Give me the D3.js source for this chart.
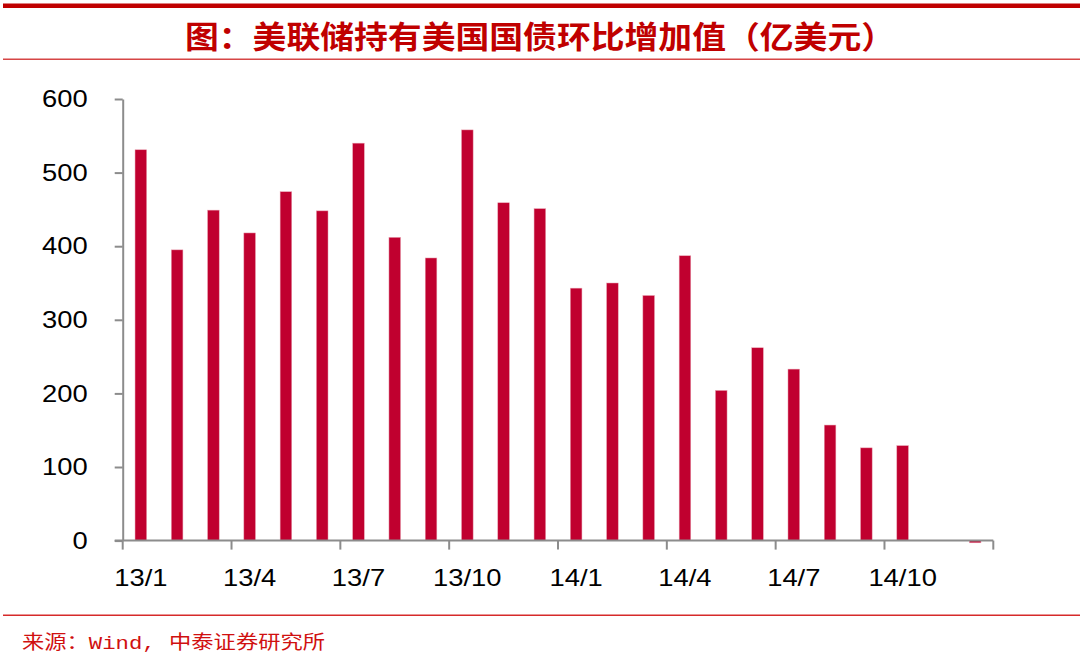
<!DOCTYPE html>
<html>
<head>
<meta charset="utf-8">
<script src="https://cdn.jsdelivr.net/npm/d3@7"></script>
<style>
  html, body { margin: 0; padding: 0; background: #fff; }
  svg { display: block; }
</style>
</head>
<body>
<svg id="chart" width="1080" height="671"></svg>
<script>
// ---- data ----
const titleText = "图：美联储持有美国国债环比增加值（亿美元）";
const sourceText = "来源：Wind, 中泰证券研究所";
const months = ["13/1","13/2","13/3","13/4","13/5","13/6","13/7","13/8","13/9","13/10","13/11","13/12",
                "14/1","14/2","14/3","14/4","14/5","14/6","14/7","14/8","14/9","14/10","14/11","14/12"];
const values = [531, 395, 449, 418, 474, 448, 540, 412, 384, 558, 459, 451,
                343, 350, 333, 387, 204, 262, 233, 157, 126, 129, 0, -3];
const xTickLabels = ["13/1","13/4","13/7","13/10","14/1","14/4","14/7","14/10"];
const yTicks = [0, 100, 200, 300, 400, 500, 600];

// ---- drawing ----
const svg = d3.select("#chart");
const red = "#c00000";
const barColor = "#c0002f";
const axisColor = "#8c8c8c";

// frame lines
svg.append("rect").attr("x", 3).attr("y", 3.5).attr("width", 1077).attr("height", 4.5).attr("fill", red);
svg.append("rect").attr("x", 3).attr("y", 58.5).attr("width", 1077).attr("height", 1.5).attr("fill", "#d64545");
svg.append("rect").attr("x", 3).attr("y", 614.5).attr("width", 1077).attr("height", 1.5).attr("fill", "#d62a2a");

// title
svg.append("text")
  .attr("x", 185).attr("y", 48)
  .attr("font-family", "'Noto Sans CJK SC', sans-serif")
  .attr("font-weight", "bold")
  .attr("font-size", 31)
  .attr("fill", red)
  .attr("textLength", 710)
  .attr("lengthAdjust", "spacingAndGlyphs")
  .text(titleText);

// source
svg.append("text")
  .attr("x", 22).attr("y", 649)
  .attr("font-family", "'Liberation Mono', 'Noto Sans CJK SC', monospace")
  .attr("font-size", 19)
  .attr("fill", "#d01010")
  .attr("textLength", 303)
  .attr("lengthAdjust", "spacingAndGlyphs")
  .text(sourceText);

const mLeft = 122.7, mRight = 993.3, mTop = 99, mBottom = 540.6;

const x = d3.scaleBand().domain(months).range([mLeft, mRight]).paddingInner(0.68).paddingOuter(0.34);
const y = d3.scaleLinear().domain([0, 600]).range([mBottom, mTop]);

// bars
svg.append("g").selectAll("rect").data(months.map((m, i) => ({m, v: values[i]})))
  .join("rect")
  .attr("x", d => x(d.m))
  .attr("width", x.bandwidth())
  .attr("y", d => Math.min(y(d.v), y(0)))
  .attr("height", d => Math.abs(y(d.v) - y(0)))
  .attr("fill", barColor)
  .attr("stroke", "#e8a0b0")
  .attr("stroke-width", 0.5);

const stretch = function() {
  const w = this.getComputedTextLength();
  d3.select(this).attr("textLength", w * 1.14).attr("lengthAdjust", "spacingAndGlyphs");
};

// y axis
const yAxis = svg.append("g")
  .attr("transform", `translate(${mLeft},0)`)
  .call(d3.axisLeft(y).tickValues(yTicks).tickSize(8).tickSizeOuter(0).tickPadding(27));
yAxis.select(".domain").attr("stroke", axisColor).attr("stroke-width", 2);
yAxis.selectAll(".tick line").attr("stroke", axisColor).attr("stroke-width", 2);
yAxis.selectAll(".tick text")
  .attr("font-family", "'Liberation Sans', Arial, sans-serif")
  .attr("font-size", 24).attr("fill", "#000")
  .each(stretch);

// x axis (labels at band centres, ticks at band boundaries)
const xAxis = svg.append("g")
  .attr("transform", `translate(0,${mBottom})`)
  .call(d3.axisBottom(x).tickValues(xTickLabels).tickSize(0).tickSizeOuter(0).tickPadding(28));
xAxis.select(".domain").remove();
xAxis.selectAll(".tick text")
  .attr("font-family", "'Liberation Sans', Arial, sans-serif")
  .attr("font-size", 24).attr("fill", "#000")
  .each(stretch);

const step = x.step();
const boundary = m => x(m) - (step - x.bandwidth()) / 2;
const tickPos = xTickLabels.map(boundary).concat([mRight]);
xAxis.append("line").attr("x1", mLeft - 8).attr("x2", mRight).attr("y1", 0).attr("y2", 0)
  .attr("stroke", axisColor).attr("stroke-width", 2);
xAxis.selectAll("line.xt").data(tickPos).join("line").attr("class", "xt")
  .attr("x1", d => d).attr("x2", d => d).attr("y1", 0).attr("y2", 9)
  .attr("stroke", axisColor).attr("stroke-width", 2);
</script>
</body>
</html>
